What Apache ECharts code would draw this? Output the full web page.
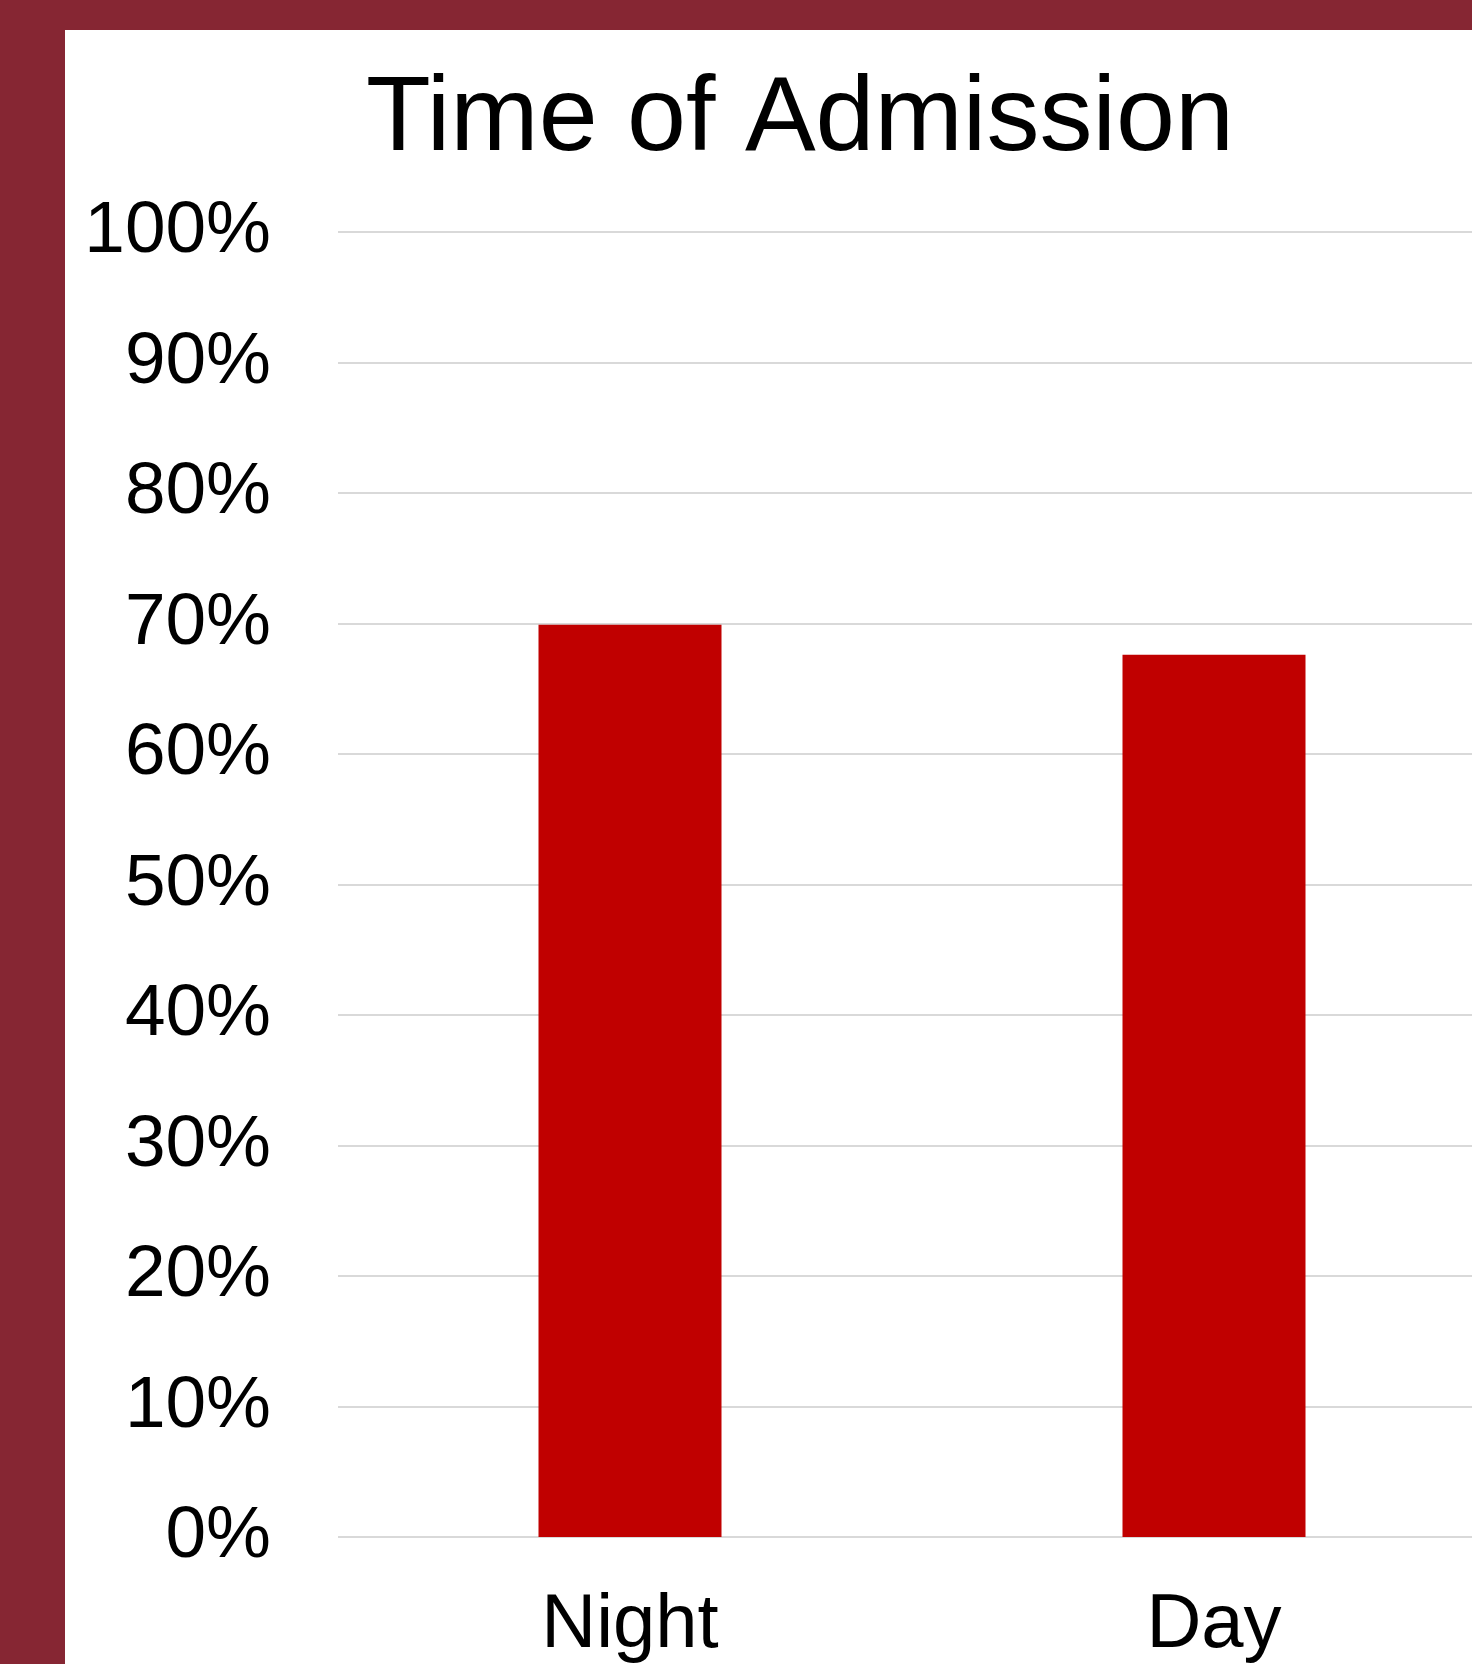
<!DOCTYPE html>
<html>
<head>
<meta charset="utf-8">
<script src="https://cdn.jsdelivr.net/npm/echarts@6/dist/echarts.min.js"></script>
<style>
  html, body { margin: 0; padding: 0; width: 1472px; height: 1664px; overflow: hidden; background: #862633; }
  #chart { position: absolute; left: 65px; top: 30px; width: 1441px; height: 1634px; background: #ffffff; }
</style>
</head>
<body>
<div id="chart"></div>
<script>
// Share of admissions by time of day (percent)
const categories = ['Night', 'Day'];
const shareValues = [69.9, 67.6];
const yTicks = { min: 0, max: 100, interval: 10 };

const chart = echarts.init(document.getElementById('chart'), null, { renderer: 'canvas' });
const font = '"Liberation Sans", Arial, sans-serif';

chart.setOption({
  animation: false,
  backgroundColor: '#ffffff',
  title: {
    text: 'Time of Admission',
    left: 296,
    top: 33,
    textStyle: { fontFamily: font, fontSize: 106, fontWeight: 'normal', color: '#000000' }
  },
  grid: { left: 273, right: 0, top: 202, bottom: 126, containLabel: false },
  xAxis: {
    type: 'category',
    data: categories,
    axisLine: { show: false },
    axisTick: { show: false },
    axisLabel: { margin: 51, fontFamily: font, fontSize: 76, color: '#000000' }
  },
  yAxis: {
    type: 'value',
    min: yTicks.min,
    max: yTicks.max,
    interval: yTicks.interval,
    axisLine: { show: false },
    axisTick: { show: false },
    splitLine: { lineStyle: { color: '#d9d9d9', width: 2 } },
    axisLabel: {
      formatter: '{value}%',
      margin: 67,
      padding: [0, 0, 10, 0],
      fontFamily: font, fontSize: 73, color: '#000000'
    }
  },
  series: [{
    type: 'bar',
    data: shareValues,
    barWidth: 183,
    itemStyle: { color: '#c00000' }
  }]
});
</script>
</body>
</html>
